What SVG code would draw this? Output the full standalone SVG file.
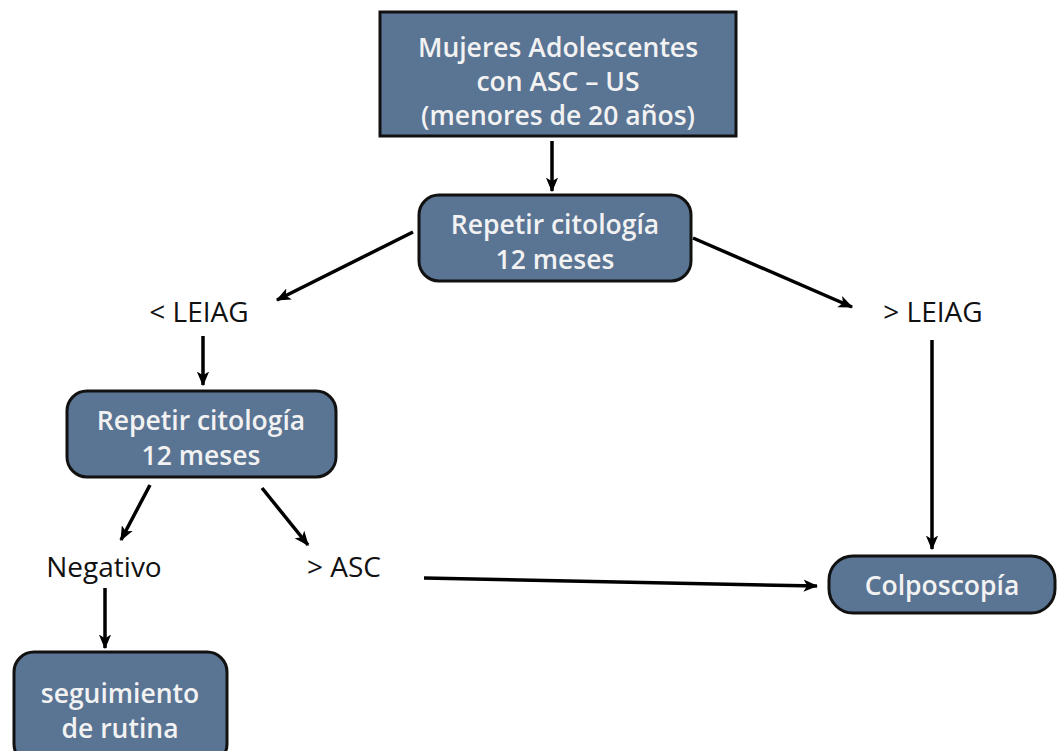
<svg xmlns="http://www.w3.org/2000/svg" width="1058" height="751" viewBox="0 0 1058 751">
<defs>
<marker id="ah" viewBox="0 0 12 10" refX="11" refY="5" markerWidth="4.2" markerHeight="3.6" markerUnits="strokeWidth" orient="auto">
<path d="M0,0 L12,5 L0,10 L3,5 z" fill="#000"/>
</marker>
<style>
.box{fill:#5a7494;stroke:#111;stroke-width:3}
.bt{font-family:"Open Sans",Lato,sans-serif;font-weight:600;font-size:26.5px;fill:#f2f2f2;text-anchor:middle;font-variant-ligatures:none}
.lt{font-family:"Open Sans",Lato,sans-serif;font-size:28px;fill:#111;text-anchor:middle}
.c{stroke:#000;stroke-width:3.5;fill:none;marker-end:url(#ah)}
</style>
</defs>
<rect width="1058" height="751" fill="#fff"/>
<g id="n-top">
<rect class="box" x="380" y="12" width="356" height="124"/>
<text class="bt" x="558" y="57">Mujeres Adolescentes</text>
<text class="bt" x="558" y="91">con ASC – US</text>
<text class="bt" x="558" y="125">(menores de 20 años)</text>
</g>
<g id="n-rep1">
<rect class="box" x="419" y="195" width="272" height="86" rx="20"/>
<text class="bt" x="555" y="234">Repetir citología</text>
<text class="bt" x="555" y="269">12 meses</text>
</g>
<g id="n-lt"><text class="lt" x="199" y="322">&lt; LEIAG</text></g>
<g id="n-gt"><text class="lt" x="933" y="322">&gt; LEIAG</text></g>
<g id="n-rep2">
<rect class="box" x="67" y="391" width="269" height="86" rx="20"/>
<text class="bt" x="201" y="430">Repetir citología</text>
<text class="bt" x="201" y="465">12 meses</text>
</g>
<g id="n-neg"><text class="lt" x="104" y="577">Negativo</text></g>
<g id="n-asc"><text class="lt" x="344" y="577">&gt; ASC</text></g>
<g id="n-seg">
<rect class="box" x="14" y="652" width="213" height="112" rx="20"/>
<text class="bt" x="120" y="703">seguimiento</text>
<text class="bt" x="120" y="738">de rutina</text>
</g>
<g id="n-col">
<rect class="box" x="829" y="556" width="226" height="57" rx="24"/>
<text class="bt" x="942" y="595">Colposcopía</text>
</g>
<g id="connectors">
<line class="c" x1="552" y1="141" x2="552" y2="191"/>
<line class="c" x1="413" y1="232" x2="277" y2="300"/>
<line class="c" x1="693" y1="238" x2="852" y2="307"/>
<line class="c" x1="203" y1="336" x2="203" y2="385"/>
<line class="c" x1="150" y1="485" x2="121" y2="540"/>
<line class="c" x1="262" y1="488" x2="308" y2="545"/>
<line class="c" x1="105" y1="588" x2="105" y2="648"/>
<line class="c" x1="424" y1="578" x2="817" y2="586"/>
<line class="c" x1="932" y1="340" x2="932" y2="549"/>
</g>
</svg>
